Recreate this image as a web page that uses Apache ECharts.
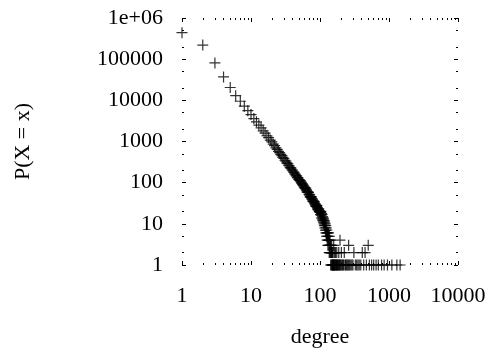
<!DOCTYPE html>
<html>
<head>
<meta charset="utf-8">
<script src="https://cdn.jsdelivr.net/npm/echarts@6/dist/echarts.min.js"></script>
<style>
  html, body { margin: 0; padding: 0; background: #fff; }
  #chart { width: 495px; height: 353px; }
</style>
</head>
<body>
<div id="chart"></div>
<script>
// degree distribution (log-log)
const degrees = [
  1, 2, 3, 4, 5, 6, 7, 8, 9, 10,
  11, 12, 13, 14, 15, 16, 17, 18, 19, 20,
  21, 22, 23, 24, 25, 26, 27, 28, 29, 30,
  31, 32, 33, 34, 35, 36, 37, 38, 39, 40,
  41, 42, 43, 44, 45, 46, 47, 48, 49, 50,
  51, 52, 53, 54, 55, 56, 57, 58, 59, 60,
  61, 62, 63, 64, 65, 66, 67, 68, 69, 70,
  71, 72, 73, 74, 75, 76, 77, 78, 79, 80,
  81, 82, 83, 84, 85, 86, 87, 88, 89, 90,
  91, 92, 93, 94, 95, 96, 97, 98, 99, 100,
  101, 102, 103, 104, 105, 106, 107, 108, 109, 110,
  111, 112, 113, 114, 115, 116, 117, 118, 119, 120,
  121, 122, 123, 124, 125, 126, 127, 128, 129, 130,
  131, 132, 133, 134, 135, 136, 137, 138, 139, 140,
  141, 142, 143, 144, 145, 146, 147, 148, 149, 150,
  151, 152, 153, 154, 155, 156, 157, 158, 159, 160,
  162, 163, 165, 166, 168, 170, 172, 173, 175, 177,
  180, 182, 185, 187, 190, 193, 195, 196, 200, 204,
  207, 210, 215, 220, 225, 230, 236, 240, 248, 255,
  260, 262, 270, 280, 290, 300, 310, 325, 340, 355,
  370, 390, 410, 430, 450, 470, 500, 520, 560, 600,
  650, 700, 780, 850, 950, 1100, 1300, 1450
];
const counts = [
  440000, 220000, 81000, 37000, 20500, 13000, 9500, 7200, 5600, 4500,
  3600, 3000, 2500, 2150, 1820, 1600, 1380, 1240, 1080, 980,
  860, 790, 700, 645, 575, 535, 485, 452, 410, 386,
  350, 334, 302, 290, 265, 254, 232, 225, 206, 200,
  184, 178, 164, 160, 148, 144, 133, 131, 121, 119,
  113, 110, 104, 99, 95, 91, 86, 83, 79, 76,
  73, 74, 68, 65, 60, 60, 58, 58, 53, 51,
  50, 45, 46, 44, 45, 41, 40, 38, 35, 36,
  35, 33, 34, 31, 30, 29, 27, 27, 27, 28,
  25, 24, 22, 23, 22, 23, 21, 20, 20, 19,
  19, 17, 20, 16, 18, 14, 17, 13, 15, 12,
  14, 11, 13, 10, 12, 9, 11, 8, 10, 7,
  9, 6, 8, 5, 7, 6, 4, 6, 5, 3,
  5, 4, 6, 3, 4, 2, 5, 3, 2, 4,
  3, 2, 1, 3, 2, 1, 2, 3, 1, 2,
  1, 2, 1, 1, 2, 1, 1, 3, 1, 1,
  1, 2, 1, 1, 2, 1, 1, 1, 2, 1,
  1, 1, 1, 2, 1, 1, 4, 1, 1, 2,
  1, 1, 1, 1, 2, 1, 1, 1, 1, 1,
  3, 1, 1, 1, 1, 1, 2, 1, 1, 1,
  1, 1, 2, 1, 2, 1, 3, 1, 1, 1,
  1, 1, 1, 1, 1, 1, 1, 1
];

const xMajorTicks = [1, 10, 100, 1000, 10000];
const xTickLabels = ['1', '10', '100', '1000', '10000'];
const xMinorTicks = [
  2, 3, 4, 5, 6, 7, 8, 9,
  20, 30, 40, 50, 60, 70, 80, 90,
  200, 300, 400, 500, 600, 700, 800, 900,
  2000, 3000, 4000, 5000, 6000, 7000, 8000, 9000
];
const yMajorTicks = [1, 10, 100, 1000, 10000, 100000, 1000000];
const yTickLabels = ['1', '10', '100', '1000', '10000', '100000', '1e+06'];
const yMinorTicks = [2, 5, 20, 50, 200, 500, 2000, 5000, 20000, 50000, 200000, 500000];

const FONT = '"Liberation Serif", "Times New Roman", serif';

const chart = echarts.init(document.getElementById('chart'), null, { renderer: 'canvas' });

function labelFor(ticks, labels) {
  return (v) => {
    const i = ticks.findIndex(t => Math.abs(t - v) / t < 1e-6);
    return i >= 0 ? labels[i] : '';
  };
}

function xAx(pos, ticks, len, withLabel) {
  return {
    type: 'log', logBase: 10, min: 1, max: 10000, position: pos,
    axisLine: { show: false },
    splitLine: { show: false },
    axisTick: { show: true, inside: true, length: len, customValues: ticks,
      lineStyle: { color: '#000', width: 1 } },
    axisLabel: withLabel ? {
      show: true, customValues: xMajorTicks, margin: 20,
      color: '#000', fontFamily: FONT, fontSize: 22,
      formatter: labelFor(xMajorTicks, xTickLabels)
    } : { show: false },
    name: withLabel ? 'degree' : '',
    nameLocation: 'middle', nameGap: 61,
    nameTextStyle: { color: '#000', fontFamily: FONT, fontSize: 22 }
  };
}

function yAx(pos, ticks, len, withLabel) {
  return {
    type: 'log', logBase: 10, min: 1, max: 1000000, position: pos,
    axisLine: { show: false },
    splitLine: { show: false },
    axisTick: { show: true, inside: true, length: len, customValues: ticks,
      lineStyle: { color: '#000', width: 1 } },
    axisLabel: withLabel ? {
      show: true, customValues: yMajorTicks, margin: 19,
      padding: [5, 0, 0, 0],
      color: '#000', fontFamily: FONT, fontSize: 22,
      formatter: labelFor(yMajorTicks, yTickLabels)
    } : { show: false },
    name: withLabel ? 'P(X = x)' : '',
    nameLocation: 'middle', nameGap: 148, nameRotate: 90,
    nameTextStyle: { color: '#000', fontFamily: FONT, fontSize: 22 }
  };
}

const points = degrees.map((d, i) => [d, counts[i]]);

chart.setOption({
  animation: false,
  backgroundColor: '#fff',
  grid: { left: 182, right: 37, top: 18, bottom: 86 },
  xAxis: [
    xAx('bottom', xMajorTicks, 4, true),
    xAx('bottom', xMinorTicks, 2, false),
    xAx('top', xMajorTicks, 4, false),
    xAx('top', xMinorTicks, 2, false)
  ],
  yAxis: [
    yAx('left', yMajorTicks, 4, true),
    yAx('left', yMinorTicks, 2, false),
    yAx('right', yMajorTicks, 4, false),
    yAx('right', yMinorTicks, 2, false)
  ],
  series: [{
    type: 'scatter',
    data: points,
    symbol: 'path://M0,5 L10,5 M5,0 L5,10',
    symbolSize: 11,
    itemStyle: { color: 'none', borderColor: '#000', borderWidth: 1.2 }
  }]
});
</script>
</body>
</html>
